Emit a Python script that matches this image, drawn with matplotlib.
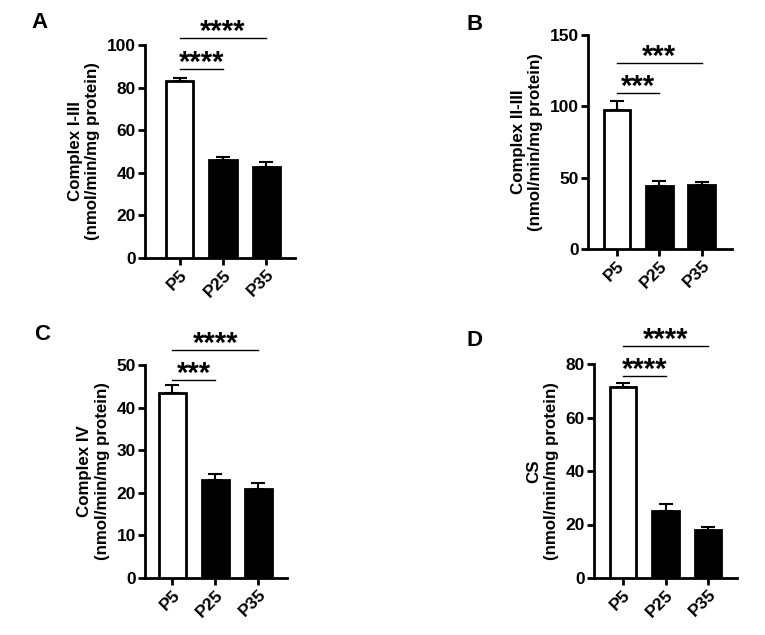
import numpy as np
import matplotlib.pyplot as plt

plt.rcParams['font.family'] = ['Liberation Sans', 'DejaVu Sans']
plt.rcParams['font.weight'] = 'bold'

groups = ["P5", "P25", "P35"]

panels = ["A", "B", "C", "D"]
ylabels = ["Complex I-III\n(nmol/min/mg protein)",
           "Complex II-III\n(nmol/min/mg protein)",
           "Complex IV\n(nmol/min/mg protein)",
           "CS\n(nmol/min/mg protein)"]
means = [[83, 46, 42.5],
         [97.5, 44.5, 45],
         [43.5, 23, 21],
         [71.5, 25, 18]]
errs = [[1.5, 1.2, 2.5],
        [6, 3, 2],
        [1.7, 1.5, 1.4],
        [1.5, 2.5, 1]]
ymax = [100, 150, 50, 80]
ystep = [20, 50, 10, 20]
# significance: (bracket to group index, height in data units, label)
sig = [[(1, 88.7, "****"), (2, 103.3, "****")],
       [(1, 109.3, "***"), (2, 130.4, "***")],
       [(1, 46.5, "***"), (2, 53.5, "****")],
       [(1, 75.5, "****"), (2, 86.7, "****")]]

# axes placement in pixels: left, right, top, bottom, xlim
W, H = 765, 635
boxes = [(145, 295, 45, 258, (-0.81, 2.67)),
         (588, 732, 35, 249, (-0.68, 2.71)),
         (145, 287, 365, 578, (-0.63, 2.67)),
         (594, 737, 364, 578, (-0.68, 2.68))]
letter_pos = [(40, 23), (475, 25), (42, 335), (475, 341)]

fig = plt.figure(figsize=(W / 100, H / 100), dpi=100)

for i in range(4):
    l, r, t, b, xl = boxes[i]
    ax = fig.add_axes([l / W, (H - b) / H, (r - l) / W, (b - t) / H])
    x = np.arange(len(groups))
    colors = ["white", "black", "black"]
    ax.bar(x, means[i], width=0.63, color=colors, edgecolor="black",
           linewidth=2, zorder=3)
    ax.errorbar(x, means[i], yerr=[np.zeros(3), errs[i]], fmt="none",
                ecolor="black", elinewidth=1.5, capsize=5, capthick=1.5,
                zorder=2)
    ax.set_xlim(*xl)
    ax.set_ylim(0, ymax[i])
    ax.set_yticks(np.arange(0, ymax[i] + 1, ystep[i]))
    ax.set_xticks(x)
    ax.set_xticklabels(groups, rotation=45, ha="right",
                       rotation_mode="anchor")
    ax.tick_params(labelsize=12.5, width=2, length=5, pad=1.5)
    for s in ["top", "right"]:
        ax.spines[s].set_visible(False)
    for s in ["left", "bottom"]:
        ax.spines[s].set_linewidth(2)
    ax.set_ylabel(ylabels[i], fontsize=12.2, fontweight="bold", labelpad=5)

    for j, yy, lab in sig[i]:
        ax.plot([0, j], [yy, yy], color="black", lw=1, clip_on=False)
        ax.annotate(lab, (j / 2, yy), xytext=(0, -1.5),
                    textcoords="offset points", ha="center", va="baseline",
                    fontsize=21, fontweight="bold", annotation_clip=False)

    lx, ly = letter_pos[i]
    fig.text(lx / W, 1 - ly / H, panels[i], fontsize=16, fontweight="bold",
             ha="center", va="center")

fig.savefig("out.png", dpi=100)
